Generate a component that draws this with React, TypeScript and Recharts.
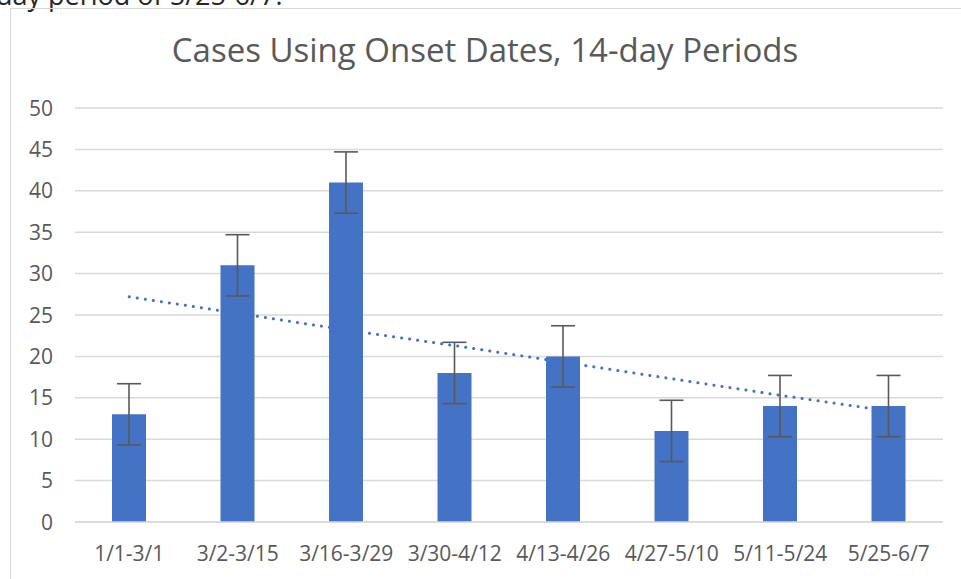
import React from 'react';
import {
  ComposedChart,
  Bar,
  Line,
  XAxis,
  YAxis,
  CartesianGrid,
  ErrorBar,
} from 'recharts';

const periods = [
  '1/1-3/1',
  '3/2-3/15',
  '3/16-3/29',
  '3/30-4/12',
  '4/13-4/26',
  '4/27-5/10',
  '5/11-5/24',
  '5/25-6/7',
];
const cases = [13, 31, 41, 18, 20, 11, 14, 14];
const stdError = [3.7, 3.7, 3.7, 3.7, 3.7, 3.7, 3.7, 3.7];
// linear trendline
const trend = [27.2, 25.2, 23.2, 21.3, 19.3, 17.3, 15.3, 13.4];
const yTicks = [0, 5, 10, 15, 20, 25, 30, 35, 40, 45, 50];

const data = periods.map((name, i) => ({
  name,
  cases: cases[i],
  err: stdError[i],
  trend: trend[i],
}));

const FONT = '"Open Sans", "Liberation Sans", sans-serif';
const GREY = '#595959';

const XTick = (props: any) => {
  const { x, y, payload } = props;
  return (
    <text x={x} y={y + 37} textAnchor="middle" fontSize={21} fill={GREY} fontFamily={FONT}>
      {payload.value}
    </text>
  );
};

const YTick = (props: any) => {
  const { y, payload } = props;
  return (
    <text x={53} y={y + 7.5} textAnchor="end" fontSize={21} fill={GREY} fontFamily={FONT}>
      {payload.value}
    </text>
  );
};

export default function App() {
  return (
    <div
      style={{
        position: 'absolute',
        left: 0,
        top: 0,
        width: 961,
        height: 579,
        overflow: 'hidden',
        background: '#fff',
        fontFamily: FONT,
      }}
    >
      <div
        style={{
          position: 'absolute',
          left: -4,
          top: -24,
          fontSize: 27,
          color: '#262626',
          whiteSpace: 'nowrap',
          fontFamily: FONT,
        }}
      >
        day period of 5/25-6/7.
      </div>
      <div
        style={{
          position: 'absolute',
          left: 10,
          top: 8,
          width: 1000,
          height: 1000,
          border: '1.5px solid #d9d9d9',
        }}
      />
      <div
        style={{
          position: 'absolute',
          left: 0,
          top: 27,
          width: 970,
          textAlign: 'center',
          fontSize: 33,
          color: GREY,
          whiteSpace: 'nowrap',
        }}
      >
        Cases Using Onset Dates, 14-day Periods
      </div>
      <div style={{ position: 'absolute', left: 0, top: 0 }}>
        <ComposedChart
          width={961}
          height={579}
          data={data}
          margin={{ top: 108, right: 18, left: 35, bottom: 0 }}
        >
          <CartesianGrid vertical={false} stroke="#d9d9d9" strokeWidth={1.5} />
          <XAxis
            dataKey="name"
            axisLine={{ stroke: '#d9d9d9', strokeWidth: 1.5 }}
            tickLine={false}
            tickSize={0}
            interval={0}
            height={57}
            tick={<XTick />}
          />
          <YAxis
            width={40}
            domain={[0, 50]}
            ticks={yTicks}
            axisLine={false}
            tickLine={false}
            tickSize={0}
            tick={<YTick />}
          />
          <Line
            dataKey="trend"
            type="linear"
            stroke="#4472C4"
            strokeWidth={3}
            strokeDasharray="0.1 8"
            strokeLinecap="round"
            dot={false}
            activeDot={false}
            isAnimationActive={false}
          />
          <Bar dataKey="cases" fill="#4472C4" barSize={34} isAnimationActive={false}>
            <ErrorBar dataKey="err" width={12} stroke={GREY} strokeWidth={1.6} />
          </Bar>
        </ComposedChart>
      </div>
    </div>
  );
}
